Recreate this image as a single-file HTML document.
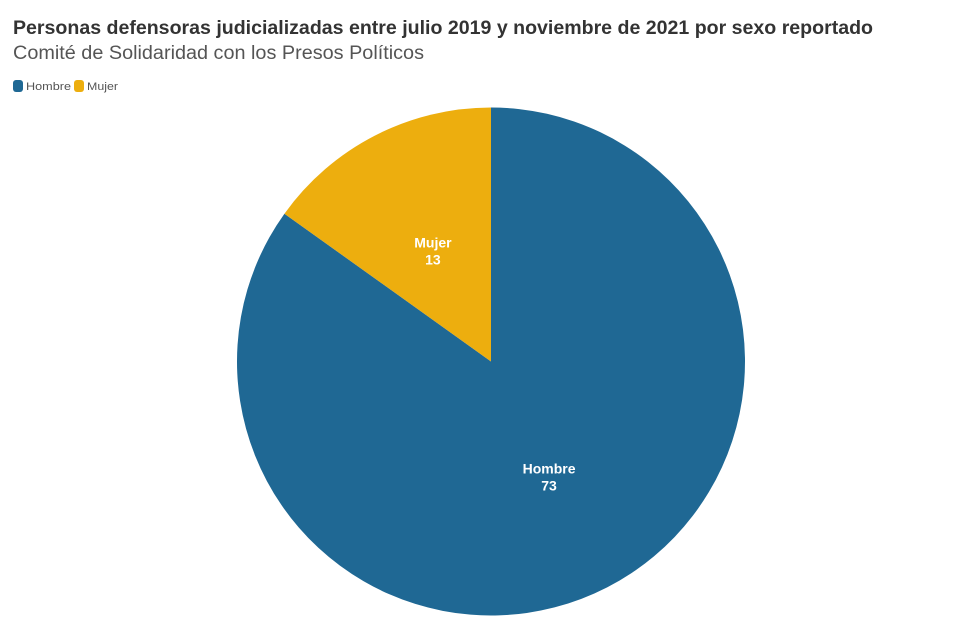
<!DOCTYPE html>
<html><head><meta charset="utf-8">
<style>
html,body{margin:0;padding:0;background:#fff;}
body{width:980px;height:633px;overflow:hidden;font-family:"Liberation Sans",sans-serif;}
</style></head>
<body>
<svg width="980" height="633" viewBox="0 0 980 633">
  <text x="13" y="34" font-size="19" font-weight="bold" fill="#333" textLength="860" lengthAdjust="spacingAndGlyphs">Personas defensoras judicializadas entre julio 2019 y noviembre de 2021 por sexo reportado</text>
  <text x="13" y="59" font-size="19" fill="#555" textLength="411" lengthAdjust="spacingAndGlyphs">Comité de Solidaridad con los Presos Políticos</text>
  <g>
    <g>
      <rect x="13" y="80" width="10" height="12" rx="3" fill="#1f6894"/>
      <text x="26" y="90" font-size="11" fill="#555" textLength="45" lengthAdjust="spacingAndGlyphs">Hombre</text>
    </g>
    <g>
      <rect x="74" y="80" width="10" height="12" rx="3" fill="#edae0e"/>
      <text x="87" y="90" font-size="11" fill="#555" textLength="31" lengthAdjust="spacingAndGlyphs">Mujer</text>
    </g>
  </g>
  <g id="pie"></g>
</svg>
<script>
const categories = ["Hombre", "Mujer"];
const values = [73, 13];
const colors = ["#1f6894", "#edae0e"];
const cx = 491, cy = 361.5, r = 254;
const g = document.getElementById('pie');
const ns = "http://www.w3.org/2000/svg";
const total = values.reduce((a,b)=>a+b,0);
// Mujer drawn counter-clockwise from top; Hombre fills the rest clockwise from top
function pt(a, rr){ return [cx + rr*Math.sin(a), cy - rr*Math.cos(a)]; }
let start = 0;
// order: Hombre clockwise from 0 to its share, then Mujer
const order = [0,1];
order.forEach(i=>{
  const frac = values[i]/total;
  const a0 = start*2*Math.PI, a1 = (start+frac)*2*Math.PI;
  const p0 = pt(a0,r), p1 = pt(a1,r);
  const large = frac>0.5?1:0;
  const path = document.createElementNS(ns,'path');
  path.setAttribute('d', `M${cx},${cy} L${p0[0]},${p0[1]} A${r},${r} 0 ${large} 1 ${p1[0]},${p1[1]} Z`);
  path.setAttribute('fill', colors[i]);
  
  
  g.appendChild(path);
  const mid = (a0+a1)/2;
  const lp = pt(mid, r*0.5);
  const t = document.createElementNS(ns,'text');
  t.setAttribute('x', lp[0]); t.setAttribute('y', lp[1]-1);
  t.setAttribute('text-anchor','middle');
  t.setAttribute('font-size','14'); t.setAttribute('font-weight','bold'); t.setAttribute('fill','#fff');
  
  
  const s1 = document.createElementNS(ns,'tspan');
  s1.setAttribute('x', lp[0]); s1.textContent = categories[i];
  const s2 = document.createElementNS(ns,'tspan');
  s2.setAttribute('x', lp[0]); s2.setAttribute('dy','17'); s2.textContent = values[i];
  t.appendChild(s1); t.appendChild(s2);
  g.appendChild(t);
  start += frac;
});
</script>
</body></html>
